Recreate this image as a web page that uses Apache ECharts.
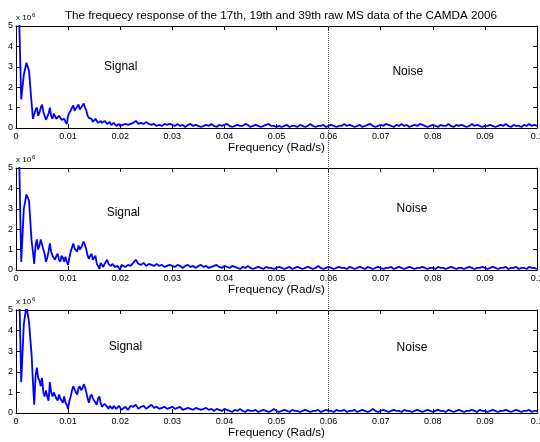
<!DOCTYPE html>
<html><head><meta charset="utf-8">
<script src="https://cdn.jsdelivr.net/npm/echarts@6/dist/echarts.min.js"></script>
<style>html,body{margin:0;padding:0;background:#fff}#c{width:540px;height:442px}</style>
</head><body><div id="c"></div>
<script>
const titleText = 'The frequecy response of the 17th, 19th and 39th raw MS data of the CAMDA 2006';
const xAxisName = 'Frequency (Rad/s)';
const freqStep = 0.0005;      // sample spacing of the main arrays
const midStartIndex = 6;      // the *Mid arrays hold the half-step samples from here on
const boundaryFreq = 0.06;
const signalLabelPos = [[0.0201, 3.0], [0.0206, 2.8], [0.021, 3.2]];
const noiseLabelPos = [[0.0752, 2.75], [0.076, 3.0], [0.076, 3.15]];

const s17 = [
9, 6.5, 1.4, 2.6, 3.2, 2.8, 1.2, 0.5, 1.0, 0.75, 1.15, 0.6, 0.55, 1.0, 0.45, 0.65, 0.4, 0.5, 0.35, 0.3,
0.6, 0.85, 1.1, 0.9, 1.15, 0.95, 1.2, 0.85, 0.5, 0.45, 0.35, 0.4, 0.3, 0.25, 0.35, 0.2, 0.3, 0.2, 0.25, 0.15,
0.1, 0.15, 0.2, 0.15, 0.2, 0.25, 0.35, 0.2, 0.25, 0.2, 0.3, 0.2, 0.15, 0.2, 0.1, 0.15, 0.1, 0.2, 0.15, 0.2,
0.15,
0.1,0.2,0.1,0.15,0.05,0.15,0.2,0.1,0.15,0.1,
0.05,0.1,0.15,0.1,0.2,0.1,0.05,0.15,0.1,0.15,
0.2,0.1,0.05,0.1,0.15,0.1,0.1,0.2,0.15,0.05,
0.1,0.15,0.1,0.05,0.1,0.15,0.2,0.1,0.1,0.05,
0.1,0.05,0.1,0.15,0.05,0.1,0.1,0.05,0.15,0.1,
0.05,0.1,0.2,0.1,0.05,0.1,0.1,0.15,0.05,0.1,
0.15,0.1,0.05,0.1,0.1,0.2,0.1,0.15,0.1,0.05,
0.1,0.15,0.05,0.1,0.15,0.2,0.1,0.05,0.1,0.15,
0.1,0.2,0.15,0.1,0.05,0.15,0.1,0.2,0.1,0.15,
0.05,0.1,0.15,0.1,0.2,0.15,0.1,0.05,0.1,0.15,
0.1,0.05,0.15,0.1,0.1,0.2,0.1,0.05,0.15,0.1,
0.15,0.1,0.05,0.1,0.2,0.1,0.15,0.1,0.05,0.1,
0.1,0.15,0.1,0.05,0.1,0.15,0.1,0.2,0.1,0.05,
0.15,0.1,0.1,0.05,0.15,0.1,0.2,0.1,0.15,0.1
];
const s17Mid = [
0.45, 0.9, 0.6, 1.0, 0.8, 0.4, 0.7, 0.6, 0.7, 0.45, 0.6, 0.4, 0.45, 0.2,
0.75, 1.0, 0.85, 1.05, 0.9, 1.1, 1.0, 0.6, 0.55, 0.3, 0.45, 0.25, 0.35, 0.2,
0.3, 0.25, 0.15, 0.25, 0.1, 0.2, 0.1
];

const s19 = [
9, 7, 0.4, 3.0, 3.7, 3.4, 1.4, 0.3, 1.5, 1.2, 1.45, 0.8, 0.6, 1.3, 0.7, 0.5, 0.8, 0.4, 0.6, 0.65,
0.25, 0.9, 1.3, 1.0, 1.2, 1.1, 1.4, 1.0, 0.55, 0.8, 0.6, 0.3, 0.05, 0.4, 0.3, 0.5, 0.25, 0.3, 0.15, 0.2,
0.0, 0.2, 0.15, 0.25, 0.2, 0.35, 0.5, 0.3, 0.25, 0.35, 0.2, 0.3, 0.25, 0.2, 0.3, 0.2, 0.25, 0.15, 0.2, 0.25,
0.2,
0.15,0.25,0.2,0.1,0.2,0.25,0.15,0.2,0.1,0.2,
0.25,0.15,0.2,0.1,0.15,0.2,0.25,0.15,0.1,0.2,
0.15,0.1,0.2,0.15,0.1,0.05,0.15,0.1,0.2,0.1,
0.05,0.1,0.15,0.1,0.05,0.15,0.1,0.1,0.05,0.1,
0.15,0.1,0.05,0.1,0.15,0.05,0.1,0.15,0.1,0.05,
0.1,0.15,0.1,0.05,0.1,0.2,0.1,0.05,0.1,0.15,
0.1,0.05,0.1,0.15,0.1,0.1,0.05,0.15,0.1,0.05,
0.1,0.15,0.1,0.05,0.15,0.1,0.05,0.1,0.15,0.1,
0.05,0.1,0.1,0.15,0.05,0.1,0.15,0.1,0.05,0.1,
0.15,0.1,0.05,0.1,0.1,0.15,0.1,0.05,0.1,0.1,
0.05,0.15,0.1,0.1,0.05,0.1,0.15,0.1,0.05,0.1,
0.1,0.05,0.1,0.15,0.1,0.05,0.1,0.1,0.15,0.1,
0.05,0.1,0.15,0.1,0.05,0.1,0.1,0.15,0.05,0.1,
0.1,0.15,0.05,0.1,0.1,0.05,0.15,0.1,0.1,0.05
];
const s19Mid = [
0.9, 1.2, 1.0, 1.5, 1.0, 0.4, 0.9, 0.9, 0.6, 0.7, 0.5, 0.7, 0.4, 0.4,
0.6, 1.1, 1.05, 0.9, 1.0, 1.25, 1.2, 0.7, 0.7, 0.5, 0.7, 0.2, 0.35, 0.15,
0.4, 0.3, 0.2, 0.35, 0.1, 0.1, 0.25
];

const s39 = [
9, 7.5, 1.5, 4.3, 5.2, 4.4, 2.8, 0.4, 2.2, 1.6, 1.7, 0.8, 0.8, 1.5, 0.8, 1.0, 0.6, 0.7, 0.5, 0.5,
0.2, 0.8, 1.3, 1.0, 1.2, 1.1, 1.4, 1.0, 0.5, 0.9, 0.6, 0.4, 0.8, 0.3, 0.45, 0.3, 0.35, 0.2, 0.3, 0.15,
0.3, 0.2, 0.3, 0.15, 0.35, 0.3, 0.4, 0.2, 0.3, 0.35, 0.2, 0.3, 0.4, 0.25, 0.3, 0.2, 0.25, 0.3, 0.2, 0.25,
0.3,
0.2,0.25,0.3,0.15,0.2,0.25,0.2,0.15,0.25,0.2,
0.15,0.2,0.25,0.15,0.2,0.1,0.2,0.15,0.1,0.2,
0.15,0.1,0.05,0.15,0.1,0.2,0.1,0.05,0.15,0.1,
0.1,0.15,0.05,0.1,0.15,0.1,0.05,0.1,0.2,0.1,
0.05,0.1,0.15,0.1,0.05,0.15,0.1,0.1,0.05,0.1,
0.15,0.1,0.05,0.1,0.1,0.15,0.05,0.1,0.15,0.1,
0.1,0.05,0.15,0.1,0.1,0.15,0.05,0.1,0.1,0.15,
0.05,0.1,0.15,0.1,0.05,0.1,0.2,0.1,0.05,0.1,
0.15,0.1,0.05,0.1,0.15,0.1,0.1,0.05,0.15,0.1,
0.1,0.05,0.1,0.15,0.1,0.05,0.1,0.15,0.1,0.05,
0.1,0.15,0.1,0.1,0.05,0.15,0.1,0.05,0.1,0.15,
0.1,0.05,0.1,0.1,0.15,0.1,0.05,0.15,0.1,0.1,
0.05,0.1,0.15,0.1,0.05,0.1,0.1,0.15,0.1,0.05,
0.1,0.15,0.1,0.05,0.1,0.1,0.15,0.05,0.1,0.1
];
const s39Mid = [
1.5, 1.8, 1.7, 1.3, 1.0, 1.1, 0.6, 1.0, 1.0, 0.7, 0.9, 0.6, 0.8, 0.4,
0.6, 1.1, 1.15, 0.9, 1.3, 1.2, 1.25, 0.7, 0.8, 0.7, 0.5, 0.7, 0.5, 0.35,
0.5, 0.2, 0.3, 0.35, 0.2, 0.35, 0.15
];

const seriesList = [[s17, s17Mid], [s19, s19Mid], [s39, s39Mid]];
const FONT = "'Liberation Sans', Arial, Helvetica, sans-serif";
const grids = [
  {left:16, right:3, top:26, height:102},
  {left:16, right:3, top:168, height:102},
  {left:16, right:3, top:310, height:103},
  {left:16, right:3, top:26, height:387}
].map(g => Object.assign({outerBoundsMode:'none', containLabel:false}, g));
const xAxes = [], yAxes = [], series = [];
const lbl = {color:'#000', fontSize:9, fontFamily:FONT};
seriesList.forEach(([vals, mids], p) => {
  const pts = vals.map((v,i)=>[+(i*freqStep).toFixed(5), v])
    .concat(mids.map((v,k)=>[+((k+midStartIndex+0.5)*freqStep).toFixed(5), v]))
    .sort((a,b)=>a[0]-b[0]);
  xAxes.push({
    gridIndex:p, type:'value', min:0, max:0.1, interval:0.01, position:'bottom',
    axisLine:{show:true, onZero:false, lineStyle:{color:'#000', width:1}},
    axisTick:{show:true, inside:true, length:4, lineStyle:{color:'#000'}},
    axisLabel:Object.assign({margin:4, formatter:v=>String(+v.toFixed(2))}, lbl),
    splitLine:{show:false},
    name:xAxisName, nameLocation:'middle', nameGap:14,
    nameTextStyle:{color:'#000', fontSize:11.7, fontFamily:FONT}
  });
  xAxes.push({
    gridIndex:p, type:'value', min:0, max:0.1, interval:0.01, position:'top',
    axisLine:{show:true, onZero:false, lineStyle:{color:'#000', width:1}},
    axisTick:{show:true, inside:true, length:4, lineStyle:{color:'#000'}},
    axisLabel:{show:false}, splitLine:{show:false}
  });
  yAxes.push({
    gridIndex:p, type:'value', min:0, max:5, interval:1, position:'left',
    axisLine:{show:true, onZero:false, lineStyle:{color:'#000', width:1}},
    axisTick:{show:true, inside:true, length:4, lineStyle:{color:'#000'}},
    axisLabel:Object.assign({margin:3}, lbl),
    splitLine:{show:false},
    name:'{a|x 10}{b|6}', nameLocation:'end', nameGap:2,
    nameTextStyle:{align:'left', verticalAlign:'bottom', rich:{
      a:{fontSize:8, color:'#000', fontFamily:FONT},
      b:{fontSize:6, color:'#000', fontFamily:FONT, verticalAlign:'top', padding:[0,0,5,1]}
    }}
  });
  yAxes.push({
    gridIndex:p, type:'value', min:0, max:5, interval:1, position:'right',
    axisLine:{show:true, onZero:false, lineStyle:{color:'#000', width:1}},
    axisTick:{show:true, inside:true, length:4, lineStyle:{color:'#000'}},
    axisLabel:{show:false}, splitLine:{show:false}
  });
  series.push({
    type:'line', xAxisIndex:2*p, yAxisIndex:2*p, showSymbol:false, symbol:'none',
    data: pts,
    lineStyle:{color:'#0000ff', width:1.8}, clip:true, z:5, animation:false,
    markPoint:{
      symbol:'rect', symbolSize:1, itemStyle:{color:'transparent'}, animation:false,
      label:{show:true, position:'inside', formatter:'{b}', color:'#000', fontSize:12, fontFamily:FONT},
      data:[
        {name:'Signal', coord:signalLabelPos[p]},
        {name:'Noise', coord:noiseLabelPos[p]}
      ]
    }
  });
});
// full-height overlay for the dotted boundary line
xAxes.push({gridIndex:3, type:'value', min:0, max:0.1, show:false});
yAxes.push({gridIndex:3, type:'value', min:0, max:1, show:false});
series.push({
  type:'line', xAxisIndex:6, yAxisIndex:6, data:[], z:1, animation:false,
  markLine:{
    silent:true, symbol:'none', animation:false, label:{show:false},
    lineStyle:{type:'dotted', color:'#444', width:1},
    data:[{xAxis:boundaryFreq}]
  }
});

const chart = echarts.init(document.getElementById('c'), null, {renderer:'canvas'});
chart.setOption({
  animation:false,
  backgroundColor:'#fff',
  title:{text:titleText, left:276, textAlign:'center', top:5,
    textStyle:{fontSize:11.7, fontWeight:'normal', color:'#000', fontFamily:FONT}},
  grid:grids, xAxis:xAxes, yAxis:yAxes, series:series
});
</script></body></html>
